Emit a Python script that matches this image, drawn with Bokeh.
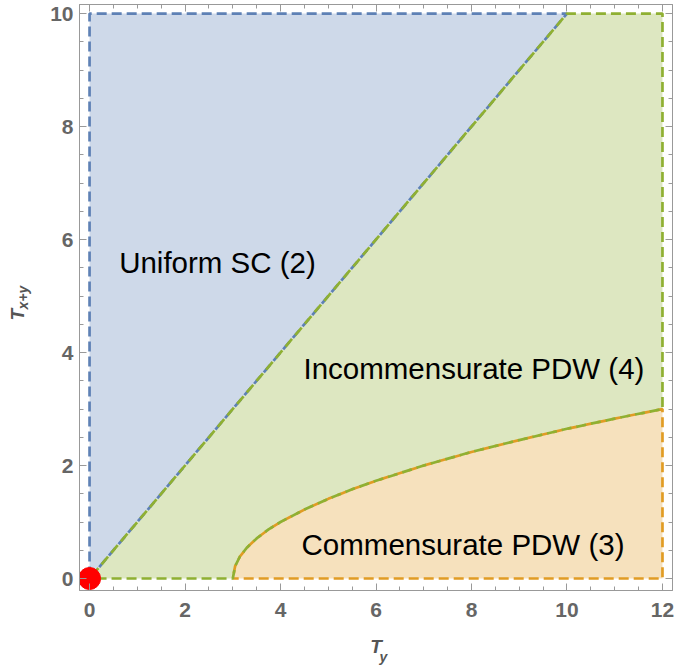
import math
from bokeh.plotting import figure
from bokeh.models import Range1d, LinearAxis, SingleIntervalTicker, Label, Title
from bokeh.embed import file_html
from bokeh.resources import INLINE

# ---------------- data ----------------
UNIFORM_X = [0, 10, 0]
UNIFORM_Y = [0, 10, 10]

# boundary between incommensurate and commensurate PDW
CURVE_X = [3.0, 3.05, 3.15, 3.3, 3.5, 3.75, 4.0, 4.5, 5.0, 5.5, 6.0, 7.0, 8.0, 9.0, 10.0, 11.0, 12.0]
CURVE_Y = [0.0, 0.22, 0.39, 0.55, 0.71, 0.87, 1.0, 1.22, 1.41, 1.58, 1.73, 2.0, 2.24, 2.45, 2.65, 2.83, 3.0]

INCOMM_X = [0] + CURVE_X + [12, 10]
INCOMM_Y = [0] + CURVE_Y + [10, 10]

COMM_X = CURVE_X + [12]
COMM_Y = CURVE_Y + [0]

CRIT_X = [0]
CRIT_Y = [0]

LABELS = ["Uniform SC (2)", "Incommensurate PDW (4)", "Commensurate PDW (3)"]
LABEL_X = [0.62, 4.48, 4.44]
LABEL_Y = [5.6, 3.71, 0.61]

BLUE = "#5E81B5"
ORANGE = "#E19C24"
GREEN = "#8FB032"

W, H = 675, 670
p = figure(width=W, height=H, output_backend="svg", toolbar_location=None,
           x_range=Range1d(-0.2105, 12.21), y_range=Range1d(-0.212, 10.16),
           min_border_left=79, min_border_right=3, min_border_top=4, min_border_bottom=80)
p.xgrid.visible = False
p.ygrid.visible = False
p.outline_line_color = "#999999"
p.outline_line_width = 1

# fills
p.patch(UNIFORM_X, UNIFORM_Y, fill_color=BLUE, fill_alpha=0.3, line_color=None)
p.patch(INCOMM_X, INCOMM_Y, fill_color=GREEN, fill_alpha=0.3, line_color=None)
p.patch(COMM_X, COMM_Y, fill_color=ORANGE, fill_alpha=0.3, line_color=None)

# dashed boundaries (green drawn last, as in the reference)
def closed(xs, ys):
    return list(xs) + [xs[0]], list(ys) + [ys[0]]

bx, by = closed(UNIFORM_X, UNIFORM_Y)
p.line(bx, by, line_color=BLUE, line_width=2.7, line_dash="10 5")
ox, oy = closed(COMM_X, COMM_Y)
p.line(ox, oy, line_color=ORANGE, line_width=2.7, line_dash="10 5", line_dash_offset=10)
gx, gy = closed(INCOMM_X, INCOMM_Y)
p.line(gx, gy, line_color=GREEN, line_width=2.7, line_dash="10 5", line_dash_offset=8)

# critical point
p.scatter(CRIT_X, CRIT_Y, size=22, color="#FF0000")

# axes
LABEL_STYLE = dict(axis_label_text_font="Liberation Sans", axis_label_text_font_style="bold italic",
                   axis_label_text_color="#555555")

def style_axis(ax, labels=True):
    ax.axis_line_color = "#999999"
    ax.major_tick_line_color = "#999999"
    ax.minor_tick_line_color = "#999999"
    ax.major_tick_in = 7
    ax.major_tick_out = 0
    ax.minor_tick_in = 4
    ax.minor_tick_out = 0
    if labels:
        ax.major_label_text_font = "Liberation Sans"
        ax.major_label_text_font_style = "bold"
        ax.major_label_text_font_size = "21px"
        ax.major_label_text_color = "#666666"
    else:
        ax.major_label_overrides = {v: "" for v in range(0, 14, 2)}
        ax.major_label_standoff = 0

xa = p.xaxis[0]
xa.ticker = SingleIntervalTicker(interval=2, num_minor_ticks=4)
style_axis(xa)
xa.major_label_standoff = 12
xa.axis_label = "T"
xa.axis_label_text_font_size = "19px"
xa.axis_label_standoff = 16
for k, v in LABEL_STYLE.items():
    setattr(xa, k, v)

ya = p.yaxis[0]
ya.ticker = SingleIntervalTicker(interval=2, num_minor_ticks=4)
style_axis(ya)
ya.major_label_standoff = 6
ya.axis_label = "x+y"
ya.axis_label_text_font_size = "14px"
ya.axis_label_standoff = 16
for k, v in LABEL_STYLE.items():
    setattr(ya, k, v)

top = LinearAxis(ticker=SingleIntervalTicker(interval=2, num_minor_ticks=4))
style_axis(top, labels=False)
p.add_layout(top, "above")
right = LinearAxis(ticker=SingleIntervalTicker(interval=2, num_minor_ticks=4))
style_axis(right, labels=False)
p.add_layout(right, "right")

# region labels
for t, x, y in zip(LABELS, LABEL_X, LABEL_Y):
    p.add_layout(Label(x=x, y=y, text=t, text_font="Liberation Sans", text_font_size="29.5px",
                       text_color="#000000", text_align="left", text_baseline="alphabetic"))

# remaining parts of the axis labels (subscript y, main letter T of the vertical label)
def mk_title(text, size, offset, standoff, valign="bottom"):
    t = Title(text=text, text_font="Liberation Sans", text_font_style="bold italic",
              text_font_size=size, text_color="#555555", align="left", offset=offset,
              vertical_align=valign)
    try:
        t.standoff = standoff
    except Exception:
        t.standoff = 0
    return t

p.add_layout(mk_title("y", "14px", 300, -22, "top"), "below")
p.add_layout(mk_title("T", "19px", 270, -30), "left")

open("out.html", "w").write(file_html(p, INLINE))
